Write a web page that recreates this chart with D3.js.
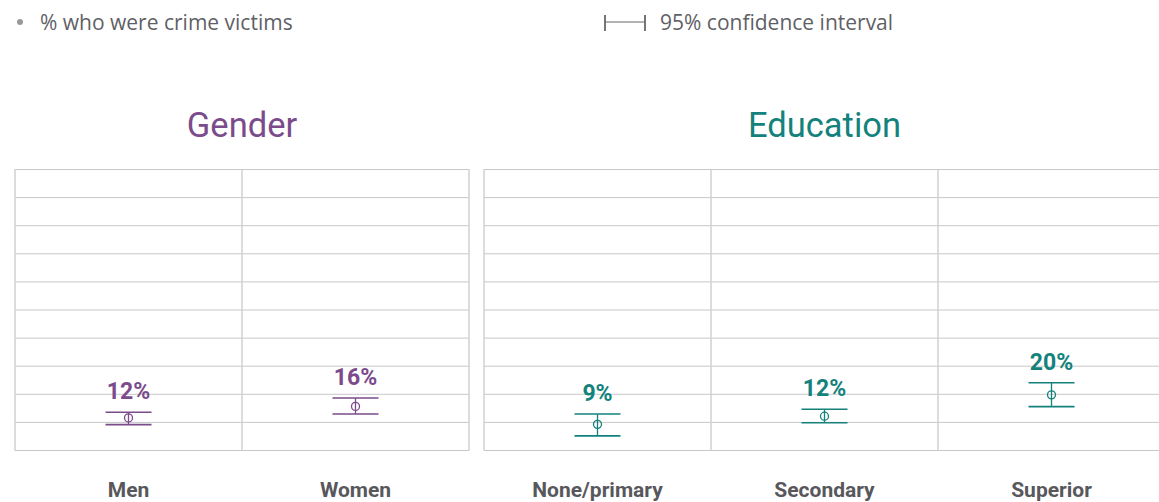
<!DOCTYPE html>
<html>
<head>
<meta charset="utf-8">
<script src="https://cdn.jsdelivr.net/npm/d3@7"></script>
<style>
  body { margin: 0; background: #fff; }
  svg { display: block; }
</style>
</head>
<body>
<script>
"use strict"

// data (% who were crime victims)
var genderCats = ["Men", "Women"];
var genderVals = [11.6, 15.7];
var genderLow  = [9.2, 13.0];
var genderHigh = [13.6, 18.7];

var eduCats = ["None/primary", "Secondary", "Superior"];
var eduVals = [9.3, 12.2, 19.8];
var eduLow  = [5.2, 9.9, 15.6];
var eduHigh = [13.0, 14.7, 24.1];

var yTicks = [0, 10, 20, 30, 40, 50, 60, 70, 80, 90, 100];

var width = 1159, height = 502;
var purple = "#7b4b8b", teal = "#14827c", grid = "#c8c8c8", labelGrey = "#58585c";

var svg = d3.select("body").append("svg")
    .attr("width", width)
    .attr("height", height);

var y = d3.scaleLinear().domain([0, 100]).range([450.5, 169.5]);

// legend
svg.append("circle").attr("cx", 20).attr("cy", 22).attr("r", 3).attr("fill", "#999");
svg.append("text").attr("x", 40).attr("y", 30)
    .attr("font-family", "'Open Sans', sans-serif").attr("font-size", 21)
    .attr("fill", "#5f5f66").text("% who were crime victims");

var ci = svg.append("g").attr("stroke", "#666").attr("stroke-width", 1.8);
ci.append("line").attr("x1", 605).attr("x2", 605).attr("y1", 15).attr("y2", 31);
ci.append("line").attr("x1", 645).attr("x2", 645).attr("y1", 15).attr("y2", 31);
ci.append("line").attr("x1", 605).attr("x2", 645).attr("y1", 22).attr("y2", 22).attr("stroke-width", 1);
svg.append("text").attr("x", 660).attr("y", 30)
    .attr("font-family", "'Open Sans', sans-serif").attr("font-size", 21)
    .attr("fill", "#5f5f66").text("95% confidence interval");

function panel(title, cats, vals, low, high, x0, colW, color) {
    var x = d3.scaleBand().domain(cats).range([x0, x0 + colW * cats.length]);
    var g = svg.append("g");

    g.append("text")
        .attr("x", x0 + colW * cats.length / 2).attr("y", 137)
        .attr("text-anchor", "middle")
        .attr("font-family", "Roboto, sans-serif").attr("font-size", 34.5)
        .attr("fill", color).text(title);

    // horizontal grid
    g.selectAll(".hgrid").data(yTicks).enter().append("line")
        .attr("x1", x0).attr("x2", x0 + colW * cats.length)
        .attr("y1", function(d) { return y(d); })
        .attr("y2", function(d) { return y(d); })
        .attr("stroke", grid).attr("stroke-width", 1);

    // vertical column borders
    var edges = cats.map(function(c) { return x(c); }).concat([x0 + colW * cats.length]);
    g.selectAll(".vgrid").data(edges).enter().append("line")
        .attr("x1", function(d) { return d; }).attr("x2", function(d) { return d; })
        .attr("y1", y(100)).attr("y2", y(0))
        .attr("stroke", "#d0d0d0").attr("stroke-width", 1.5);

    var items = cats.map(function(c, i) {
        return { cat: c, v: vals[i], lo: low[i], hi: high[i] };
    });

    var bars = g.selectAll(".ci").data(items).enter().append("g")
        .attr("transform", function(d) { return "translate(" + (x(d.cat) + x.bandwidth() / 2) + ",0)"; });

    bars.append("line")
        .attr("x1", 0).attr("x2", 0)
        .attr("y1", function(d) { return y(d.hi); })
        .attr("y2", function(d) { return y(d.lo); })
        .attr("stroke", color).attr("stroke-width", 1.3);
    bars.append("line")
        .attr("x1", -23).attr("x2", 23)
        .attr("y1", function(d) { return y(d.hi); })
        .attr("y2", function(d) { return y(d.hi); })
        .attr("stroke", color).attr("stroke-width", 1.6);
    bars.append("line")
        .attr("x1", -23).attr("x2", 23)
        .attr("y1", function(d) { return y(d.lo); })
        .attr("y2", function(d) { return y(d.lo); })
        .attr("stroke", color).attr("stroke-width", 1.6);
    bars.append("circle")
        .attr("cy", function(d) { return y(d.v); })
        .attr("r", 4)
        .attr("fill", "none").attr("stroke", color).attr("stroke-width", 1.3);

    bars.append("text")
        .attr("y", function(d) { return y(d.hi) - 13; })
        .attr("text-anchor", "middle")
        .attr("font-family", "Roboto, sans-serif").attr("font-weight", "bold").attr("font-size", 23)
        .attr("fill", color)
        .text(function(d) { return Math.round(d.v) + "%"; });

    bars.append("text")
        .attr("y", 497)
        .attr("text-anchor", "middle")
        .attr("font-family", "Roboto, sans-serif").attr("font-weight", "bold").attr("font-size", 21)
        .attr("fill", labelGrey)
        .text(function(d) { return d.cat; });
}

panel("Gender", genderCats, genderVals, genderLow, genderHigh, 15, 227, purple);
panel("Education", eduCats, eduVals, eduLow, eduHigh, 484, 227, teal);
</script>
</body>
</html>
